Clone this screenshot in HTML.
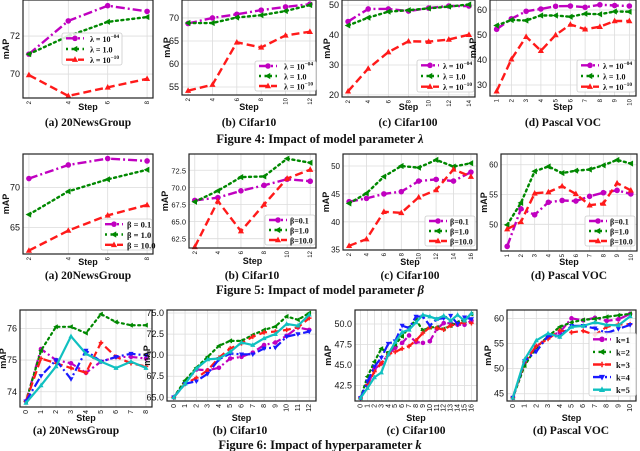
<!DOCTYPE html>
<html><head><meta charset="utf-8">
<style>
html,body{margin:0;padding:0;background:#fff;}
svg{display:block;font-family:"Liberation Sans","DejaVu Sans",sans-serif;}
.cap{font-family:"Liberation Serif",serif;font-weight:bold;font-size:11.5px;fill:#111;}
.fig{font-family:"Liberation Serif",serif;font-weight:bold;font-size:12.5px;fill:#111;}
</style></head>
<body>
<svg id="chart" width="640" height="451" viewBox="0 0 640 451" xmlns="http://www.w3.org/2000/svg">
<text class="cap" x="88" y="126" text-anchor="middle">(a) 20NewsGroup</text>
<text class="cap" x="249" y="126" text-anchor="middle">(b) Cifar10</text>
<text class="cap" x="408" y="126" text-anchor="middle">(c) Cifar100</text>
<text class="cap" x="563" y="126" text-anchor="middle">(d) Pascal VOC</text>
<text class="fig" x="320" y="143" text-anchor="middle">Figure 4: Impact of model parameter <tspan font-style="italic">λ</tspan></text>
<text class="cap" x="88" y="279" text-anchor="middle">(a) 20NewsGroup</text>
<text class="cap" x="252" y="279" text-anchor="middle">(b) Cifar10</text>
<text class="cap" x="410" y="279" text-anchor="middle">(c) Cifar100</text>
<text class="cap" x="569" y="279" text-anchor="middle">(d) Pascal VOC</text>
<text class="fig" x="320" y="294" text-anchor="middle">Figure 5: Impact of model parameter <tspan font-style="italic">β</tspan></text>
<text class="cap" x="76" y="434" text-anchor="middle">(a) 20NewsGroup</text>
<text class="cap" x="240" y="434" text-anchor="middle">(b) Cifar10</text>
<text class="cap" x="416" y="434" text-anchor="middle">(c) Cifar100</text>
<text class="cap" x="571" y="434" text-anchor="middle">(d) Pascal VOC</text>
<text class="fig" x="320" y="449" text-anchor="middle">Figure 6: Impact of hyperparameter <tspan font-style="italic">k</tspan></text>
</svg>
<script>
// ---------- data ----------
const steps4a=[2,4,6,8];
const l4a_m4=[71.05,72.8,73.6,73.3];
const l4a_1=[71.05,72.0,72.75,73.0];
const l4a_m10=[69.95,68.85,69.3,69.75];
const steps4b=[2,4,6,8,10,12];
const l4b_m4=[68.8,70,70.8,71.7,72.4,73];
const l4b_1=[68.9,68.9,70.1,70.6,71.5,72.8];
const l4b_m10=[54.2,55.5,64.7,63.6,66.2,67];
const steps4c=[2,4,6,8,10,12,14];
const l4c_m4=[44.5,48.7,48.7,48,49,49.7,49.7];
const l4c_1=[43.2,45.8,47.8,48.3,48.9,49.5,50.2];
const l4c_m10=[21.2,28.8,34.3,37.9,37.8,38.5,40.1];
const steps4d=[1,2,3,4,5,6,7,8,9,10];
const l4d_m4=[52.3,56.5,59.5,60.4,61.5,61.6,61.1,62.1,61.8,61.6];
const l4d_1=[53.8,56,55.8,57.8,57.8,57.3,58.5,58.3,59.4,59.3];
const l4d_m10=[27.5,40.3,49.3,43.7,50,54.2,52.3,53.3,55.6,55.6];

const steps5a=[2,4,6,8];
const b5a_01=[71.1,72.8,73.6,73.3];
const b5a_1=[66.6,69.5,71,72.2];
const b5a_10=[62.1,64.6,66.5,67.8];
const steps5b=[2,4,6,8,10,12];
const b5b_01=[68.1,68.5,69.5,70.3,71.2,70.9];
const b5b_1=[67.9,69.5,71.5,71.6,74.2,73.6];
const b5b_10=[61.3,68,63.6,67.5,71.3,72.6];
const steps5c=[2,4,6,8,10,12,14,16];
const b5c_01=[43.6,44.2,45,45.4,47.3,47.6,47.3,48.9];
const b5c_1=[43.3,45.1,48.1,50,49.7,51.1,49.9,50.5];
const b5c_10=[35.7,36.9,41.8,41.6,44.4,45.7,49.4,48.1];
const steps5d=[1,2,3,4,5,6,7,8,9,10];
const b5d_01=[46.3,52.6,51.6,53.7,54,53.9,54.7,55.3,55.7,55.1];
const b5d_1=[49.9,53.6,58.9,59.7,58.6,59,59.2,59.9,60.8,60.2];
const b5d_10=[49.2,50.4,55.2,55.4,56.4,55.1,53.2,53.5,56.9,55.7];

const steps6a=[0,1,2,3,4,5,6,7,8];
const k6a_1=[73.7,75.35,75,74.9,74.6,74.95,75.1,75.1,75.05];
const k6a_2=[73.7,75.3,76.05,76.05,75.85,76.45,76.2,76.1,76.1];
const k6a_3=[73.7,75.05,74.9,74.75,74.6,75.55,75.1,74.9,74.8];
const k6a_4=[73.7,74.5,75,74.4,75.3,74.95,75.1,75.2,75.15];
const k6a_5=[73.65,74.2,74.8,75.75,75.2,74.95,74.75,74.95,74.75];
const steps6b=[0,1,2,3,4,5,6,7,8,9,10,11,12];
const k6b_1=[65,66.7,68.3,68.2,68.5,69.6,69.8,70.3,71.2,71.5,72.3,73.3,73.0];
const k6b_2=[65,67,68.5,69.8,71.1,71.7,71.7,72.4,73,73.4,74.6,74.2,75];
const k6b_3=[65,66.6,67.3,68.2,69.7,70.8,71.4,72.2,72.7,72.8,73,73.3,74.4];
const k6b_4=[65,66.6,66.9,67.8,69.5,70.2,70.1,70.1,70.8,70.9,72.2,72.5,72.8];
const k6b_5=[65,66.6,68.4,69.5,69.6,70.4,71.5,71.2,72,72.5,73.7,73.5,74.8];
const steps6c=[0,1,2,3,4,5,6,7,8,9,10,11,12,13,14,15,16];
const k6c_1=[41,42.5,44.5,45.2,46.3,47.1,47.7,48.6,47.8,47.7,47.9,49.4,50.1,50.1,49.9,49.9,50.4];
const k6c_2=[41,43.6,45.4,47,46.5,47.5,48.5,49.6,50.5,49.2,49.6,49.6,49.4,49.8,50.2,50.5,51.2];
const k6c_3=[41,42.6,44.2,45.2,46.3,46.6,47,47.3,48,48.9,49.6,49.5,49.3,49.8,50,50.2,50.1];
const k6c_4=[41,43,44.8,45.9,47.6,47.9,49.8,49.5,50.9,50.9,49.8,50.6,50.7,51,50,50.8,50.6];
const k6c_5=[41,42.2,43.5,44.1,46.3,47.8,49,49.3,50.2,51.1,50.9,50.6,51,50.4,51.1,50.4,51.3];
const steps6d=[0,1,2,3,4,5,6,7,8,9,10];
const k6d_1=[44.2,51.2,54.3,56.4,57.2,60,59.6,60.1,59.5,59.8,60.9];
const k6d_2=[44.2,50.6,54.2,56.4,58.3,59.2,59.7,59.9,60.3,60.6,60.9];
const k6d_3=[44.2,51.3,54.5,55.9,57.6,57.2,57.5,56.7,58.3,58.8,58.8];
const k6d_4=[44.2,51.5,53.4,56.5,56.4,58.5,58.5,58,57.1,57.9,58.7];
const k6d_5=[44.2,51.8,55.6,57,56.3,58.3,58.5,59.2,58.7,58.6,60.4];

const yticks4a=[70,72], yticks4b=[55,60,65,70], yticks4c=[20,30,40,50], yticks4d=[30,40,50,60];
const yticks5a=[65,70], yticks5b=[62.5,65.0,67.5,70.0,72.5], yticks5c=[35,40,45,50], yticks5d=[50,55,60];
const yticks6a=[74,75,76], yticks6b=[65.0,67.5,70.0,72.5,75.0], yticks6c=[42.5,45.0,47.5,50.0], yticks6d=[45,50,55,60];
const lamLabels=[["λ = 10","−04"],["λ = 1.0",""],["λ = 10","−10"]];
const betaLabels=["β = 0.1","β = 1.0","β = 10.0"];
const betaLabels2=["β=0.1","β=1.0","β=10.0"];
const kLabels=["k=1","k=2","k=3","k=4","k=5"];

// ---------- styles ----------
const ST={
 mag:{c:"#c000c0",d:"9,3,2,3",m:"circle"},
 grn:{c:"#008800",d:"2,3.5",m:"left"},
 red:{c:"#ff1a1a",d:"8,4",m:"up"},
 red3:{c:"#ff1a1a",d:"8,4",m:"plus"},
 blu:{c:"#1a1aff",d:"9,3,2,3",m:"down"},
 cyn:{c:"#10c0c0",d:"",m:"up"}
};
const NS="http://www.w3.org/2000/svg";
const svg=document.getElementById("chart");
function mk(tag,attrs,parent){const e=document.createElementNS(NS,tag);for(const k in attrs)e.setAttribute(k,attrs[k]);(parent||svg).appendChild(e);return e;}

function marker(g,st,x,y,s){
  if(st.m==="circle"){mk("circle",{cx:x,cy:y,r:s,fill:st.c},g);}
  else if(st.m==="up"){mk("polygon",{points:`${x},${y-s*1.2} ${x-s*1.1},${y+s*0.8} ${x+s*1.1},${y+s*0.8}`,fill:st.c},g);}
  else if(st.m==="down"){mk("polygon",{points:`${x},${y+s*1.2} ${x-s*1.1},${y-s*0.8} ${x+s*1.1},${y-s*0.8}`,fill:st.c},g);}
  else if(st.m==="left"){mk("polygon",{points:`${x-s*1.2},${y} ${x+s*0.8},${y-s*1.1} ${x+s*0.8},${y+s*1.1}`,fill:st.c},g);}
  else if(st.m==="plus"){mk("path",{d:`M${x-s},${y}H${x+s}M${x},${y-s}V${y+s}`,stroke:st.c,"stroke-width":1.5},g);}
}

function panel(name,box,xs,ylim,yticks,series,styles,opt){
  const [L,T,R,B]=box;
  const g=mk("g",{});
  
  
  const xmin=xs[0],xmax=xs[xs.length-1],pad=(xmax-xmin)*0.05;
  const X=v=>L+(v-(xmin-pad))/((xmax+pad)-(xmin-pad))*(R-L);
  const Y=v=>B-(v-ylim[0])/(ylim[1]-ylim[0])*(B-T);
  xs.forEach(v=>mk("line",{x1:X(v),x2:X(v),y1:T,y2:B,stroke:"#dcdcdc","stroke-width":0.8},g));
  yticks.forEach(v=>mk("line",{x1:L,x2:R,y1:Y(v),y2:Y(v),stroke:"#dcdcdc","stroke-width":0.8},g));
  yticks.forEach(v=>{const t=mk("text",{x:L-3,y:Y(v)+3,"text-anchor":"end","font-size":opt.yfs||9,fill:"#111"},g);t.textContent=opt.yfmt?v.toFixed(1):String(v);});
  xs.forEach(v=>{const x=X(v),y=B+3;const t=mk("text",{x:0,y:0,"text-anchor":"end","font-size":opt.xfs||6,fill:"#111",transform:`translate(${x+2},${y}) rotate(-90)`},g);t.textContent=String(v);});
  const sl=mk("text",{x:(L+R)/2,y:opt.stepY,"text-anchor":"middle","font-size":opt.sfs||9,"font-weight":"bold",fill:"#111"},g);sl.textContent="Step";
  
  const ml=mk("text",{x:0,y:0,"text-anchor":"middle","font-size":opt.sfs||9,"font-weight":"bold",fill:"#111",transform:`translate(${opt.mapX},${(T+B)/2}) rotate(-90)`},g);ml.textContent="mAP";
  
  series.forEach((vals,i)=>{
    const st=styles[i];
    const sg=mk("g",{},g);
    
    
    const pts=vals.map((v,j)=>X(xs[j])+","+Y(v)).join(" ");
    const a={points:pts,fill:"none",stroke:st.c,"stroke-width":opt.lw||2.4,"stroke-linejoin":"round"};
    if(st.d)a["stroke-dasharray"]=st.d;
    if(st.m==="left")a["stroke-linecap"]="round";
    mk("polyline",a,sg);
    vals.forEach((v,j)=>marker(sg,st,X(xs[j]),Y(v),opt.ms||2.8));
  });
  mk("rect",{x:L,y:T,width:R-L,height:B-T,fill:"none",stroke:"#222","stroke-width":1.2},g);
  if(opt.leg){
    const [lx,ly,lw,lh]=opt.leg;
    const lg=mk("g",{},g);
    
    
    mk("rect",{x:lx,y:ly,width:lw,height:lh,rx:2,fill:"#fff","fill-opacity":0.85,stroke:"#ccc","stroke-width":0.8},lg);
    const n=opt.labels.length,step=lh/n;
    opt.labels.forEach((lab,i)=>{
      const st=styles[i],yy=ly+step*(i+0.5);
      const a={x1:lx+4,x2:lx+22,y1:yy,y2:yy,stroke:st.c,"stroke-width":2.4};
      if(st.d)a["stroke-dasharray"]=st.d;
      mk("line",a,lg);
      marker(lg,st,lx+13,yy,2.8);
      const t=mk("text",{x:lx+(opt.labX||30),y:yy+3.5,"font-size":opt.lfs||9,fill:"#111","font-family":"Liberation Serif,serif","font-weight":"bold"},lg);
      
      if(Array.isArray(lab)){t.textContent=lab[0];if(lab[1]){const s=mk("tspan",{dy:-4,"font-size":5.5},t);s.textContent=lab[1];}}
      else t.textContent=lab;
    });
  }
}
const S3=[ST.mag,ST.grn,ST.red], S5=[ST.mag,ST.grn,ST.red3,ST.blu,ST.cyn];
panel("plot-4a",[23,0,153,98],steps4a,[68.74,73.9],yticks4a,[l4a_m4,l4a_1,l4a_m10],S3,{stepY:110,mapX:9,leg:[62,33,60,32],labels:lamLabels,labX:28,lfs:8});
panel("plot-4b",[182,0,316,95],steps4b,[53.26,73.9],yticks4b,[l4b_m4,l4b_1,l4b_m10],S3,{stepY:110,mapX:170,leg:[255,61,61,30],labels:lamLabels,labX:29,lfs:8});
panel("plot-4c",[342,0,475,97],steps4c,[19.3,51.7],yticks4c,[l4c_m4,l4c_1,l4c_m10],S3,{stepY:110,mapX:330,leg:[417,60,57,32],labels:lamLabels,labX:26,lfs:8});
panel("plot-4d",[490,0,636,96],steps4d,[25.6,64],yticks4d,[l4d_m4,l4d_1,l4d_m10],S3,{stepY:110,mapX:476,leg:[577,60,58,32],labels:lamLabels,labX:26,lfs:8});
panel("plot-5a",[23,154,153,254],steps5a,[61.67,74.17],yticks5a,[b5a_01,b5a_1,b5a_10],S3,{stepY:265,mapX:9,yfs:9,leg:[101,219,51,31],labels:betaLabels,labX:26,lfs:8.5});
panel("plot-5b",[189,154,316,248],steps5b,[61.14,74.88],yticks5b,[b5b_01,b5b_1,b5b_10],S3,{stepY:264,mapX:168,yfs:7.5,yfmt:1,leg:[265,215,50,30],labels:betaLabels2,labX:25,lfs:8});
panel("plot-5c",[343,154,477,250],steps5c,[34.95,52.15],yticks5c,[b5c_01,b5c_1,b5c_10],S3,{stepY:265,mapX:329,yfs:8,leg:[425,216,50,30],labels:betaLabels2,labX:25,lfs:8});
panel("plot-5d",[501,154,637,251],steps5d,[45.52,61.8],yticks5d,[b5d_01,b5d_1,b5d_10],S3,{stepY:265,mapX:487,yfs:8,leg:[585,216,50,30],labels:betaLabels2,labX:25,lfs:8});
panel("plot-6a",[20,310,152,407],steps6a,[73.52,76.58],yticks6a,[k6a_1,k6a_2,k6a_3,k6a_4,k6a_5],S5,{stepY:421,mapX:6,xfs:7,lw:2.2,ms:2.3});
panel("plot-6b",[167,310,316,401],steps6b,[64.56,75.36],yticks6b,[k6b_1,k6b_2,k6b_3,k6b_4,k6b_5],S5,{stepY:421,mapX:150,xfs:7,yfmt:1,lw:2.2,ms:2.3});
panel("plot-6c",[355,310,477,401],steps6c,[40.63,51.7],yticks6c,[k6c_1,k6c_2,k6c_3,k6c_4,k6c_5],S5,{stepY:421,mapX:331,xfs:7,yfmt:1,lw:2.2,ms:2.3});
panel("plot-6d",[507,310,636,401],steps6d,[43.55,61.66],yticks6d,[k6d_1,k6d_2,k6d_3,k6d_4,k6d_5],S5,{stepY:421,mapX:491,xfs:7,lw:2.2,ms:2.3,leg:[589,333,47,63],labels:kLabels,labX:27,lfs:8.5});
</script>
</body></html>
